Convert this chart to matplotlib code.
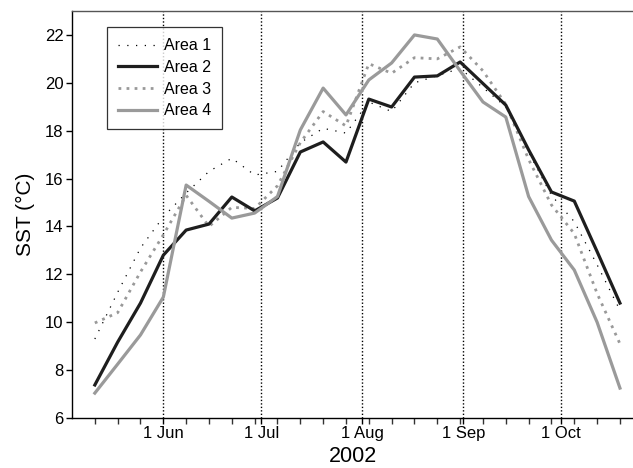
import matplotlib
matplotlib.use("Agg")
import matplotlib.pyplot as plt
import matplotlib.dates as mdates
import numpy as np
import datetime as dt

plt.rcParams['font.family'] = ['Liberation Sans', 'DejaVu Sans']

# weekly sample dates (2002)
start = dt.date(2002, 5, 11)
dates = [start + dt.timedelta(days=7 * i) for i in range(24)]

area1 = [9.3, 11.25, 13.1, 14.4, 15.4, 16.3, 16.85, 16.15, 16.3, 17.5, 18.1, 17.9,
         19.2, 18.8, 20.0, 20.3, 20.6, 19.8, 19.0, 17.1, 15.3, 14.2, 12.4, 10.5]
area2 = [7.38, 9.17, 10.8, 12.8, 13.85, 14.1, 15.23, 14.65, 15.19, 17.11, 17.53, 16.69,
         19.32, 18.99, 20.24, 20.29, 20.87, 19.97, 19.07, 17.2, 15.44, 15.06, 12.95, 10.8]
area3 = [9.97, 10.4, 12.1, 13.65, 15.3, 14.0, 14.8, 14.75, 15.7, 17.5, 18.8, 18.2,
         20.8, 20.4, 21.05, 21.0, 21.5, 20.5, 19.1, 16.8, 14.9, 13.7, 11.2, 9.1]
area4 = [7.04, 8.25, 9.47, 11.05, 15.73, 15.05, 14.35, 14.56, 15.25, 18.03, 19.78, 18.66,
         20.12, 20.83, 22.0, 21.83, 20.5, 19.2, 18.57, 15.25, 13.43, 12.18, 10.0, 7.25]

month_starts = [dt.date(2002, m, 1) for m in (6, 7, 8, 9, 10)]
month_labels = ['1 Jun', '1 Jul', '1 Aug', '1 Sep', '1 Oct']
yticks = [6, 8, 10, 12, 14, 16, 18, 20, 22]

fig = plt.figure(figsize=(6.33, 4.68), dpi=100)
ax = fig.add_axes([72 / 633, 1 - 418 / 468, 1 - 72 / 633, (418 - 11) / 468])

for d in month_starts:
    ax.axvline(d, color='black', lw=1.0, linestyle=(0, (1, 1.5)), zorder=1)

ax.plot(dates, area1, color='black', lw=0.9, linestyle=(0, (1, 6)), label='Area 1', zorder=3)
ax.plot(dates, area2, color='#1e1e1e', lw=2.3, label='Area 2', zorder=4)
ax.plot(dates, area3, color='#999999', lw=2.0, linestyle=(0, (1, 1.9)), label='Area 3', zorder=3)
ax.plot(dates, area4, color='#9a9a9a', lw=2.3, label='Area 4', zorder=5)

ax.set_xlim(dt.date(2002, 5, 4) + dt.timedelta(hours=17), dt.date(2002, 10, 23) + dt.timedelta(hours=17))
ax.set_ylim(6, 23)
ax.set_yticks(yticks)
ax.set_yticklabels([str(v) for v in yticks])
ax.set_xticks(month_starts)
ax.set_xticklabels(month_labels)
ax.set_xticks(dates, minor=True)
ax.tick_params(axis='both', which='major', direction='out', length=4, width=1, labelsize=12, pad=2, colors='black')
ax.tick_params(axis='x', which='minor', direction='out', length=4, width=1, color='#333333')

ax.spines['right'].set_visible(False)
ax.spines['top'].set_color('#555555')
for s in ('left', 'bottom', 'top'):
    ax.spines[s].set_linewidth(1.0)

ax.set_ylabel('SST (°C)', fontsize=15, labelpad=7)
ax.set_xlabel('2002', fontsize=15.5, labelpad=3)

leg = ax.legend(loc='upper left', bbox_to_anchor=((107 - 72) / 561, 1 - (27 - 11) / 407),
                frameon=True, fancybox=False, edgecolor='black', fontsize=11.5,
                handlelength=2.4, handletextpad=0.45, labelspacing=0.42,
                borderpad=0.7, borderaxespad=0)
leg.get_frame().set_linewidth(0.9)

fig.savefig('out.png', dpi=100)
